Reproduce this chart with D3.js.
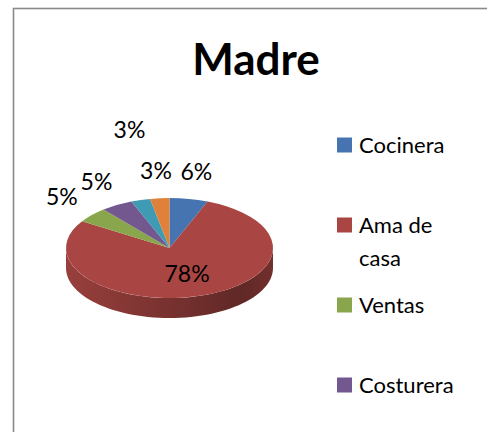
<!DOCTYPE html>
<html>
<head>
<meta charset="utf-8">
<script src="https://cdn.jsdelivr.net/npm/d3@7"></script>
<style>
  body { margin: 0; background: #fff; }
  svg { display: block; font-family: Lato, "Noto Sans", sans-serif; }
</style>
</head>
<body>
<div id="graph"></div>
<script>
'use strict';
// data
var title = 'Madre';
var categories = ['Cocinera', 'Ama de casa', 'Ventas', 'Costurera', 'Empleada', 'Otros'];
var values = [6, 78, 5, 5, 3, 3];
var topColors = ['#4674b0', '#a94643', '#8aa64d', '#72588f', '#3f9bb4', '#df813b'];

var canvasWidth = 487;
var canvasHeight = 432;

var svg = d3.select('#graph')
  .append('svg')
  .attr('width', canvasWidth)
  .attr('height', canvasHeight);

// chart frame (runs off the right and bottom edge)
svg.append('rect')
  .attr('x', 13.5)
  .attr('y', 8.5)
  .attr('width', 520)
  .attr('height', 460)
  .attr('fill', '#fff')
  .attr('stroke', '#8a8a8a')
  .attr('stroke-width', 1.6);

// title
svg.append('text')
  .attr('x', 256)
  .attr('y', 75)
  .attr('text-anchor', 'middle')
  .attr('font-size', '44px')
  .attr('font-weight', 'bold')
  .attr('fill', '#000')
  .text(title);

// pie geometry (ellipse seen from above)
var cx = 169.5, cy = 248, rx = 103.5, ry = 50, depth = 20;

var data = categories.map(function(c, i) {
  return { name: c, value: values[i], color: topColors[i] };
});
var total = d3.sum(values);

var pie = d3.pie().sort(null).value(function(d) { return d.value; });
var arcs = pie(data);

var arc = d3.arc().innerRadius(0).outerRadius(rx);

var defs = svg.append('defs');

function ellipsePoint(a, dy) {
  return [cx + rx * Math.sin(a), cy - ry * Math.cos(a) + (dy || 0)];
}

// side walls: only the front half (pi/2 .. 3pi/2) is visible
var pieArea = svg.append('g');
arcs.forEach(function(a, i) {
  var a0 = Math.max(a.startAngle, Math.PI / 2);
  var a1 = Math.min(a.endAngle, Math.PI * 1.5);
  if (a1 <= a0) return;
  var steps = d3.range(0, 61).map(function(k) { return a0 + (a1 - a0) * k / 60; });
  var topEdge = steps.map(function(t) { return ellipsePoint(t, 0); });
  var bottomEdge = steps.slice().reverse().map(function(t) { return ellipsePoint(t, depth); });
  var base = d3.color(a.data.color);
  var grad = defs.append('linearGradient')
    .attr('id', 'side' + i)
    .attr('gradientUnits', 'userSpaceOnUse')
    .attr('x1', cx - rx).attr('x2', cx + rx)
    .attr('y1', 0).attr('y2', 0);
  grad.append('stop').attr('offset', '0').attr('stop-color', base.darker(0.3));
  grad.append('stop').attr('offset', '0.45').attr('stop-color', base.darker(0.9));
  grad.append('stop').attr('offset', '0.85').attr('stop-color', base.darker(1.6));
  grad.append('stop').attr('offset', '1').attr('stop-color', base.darker(1.1));
  pieArea.append('path')
    .attr('d', d3.line()(topEdge.concat(bottomEdge)) + 'Z')
    .attr('fill', 'url(#side' + i + ')');
});

// top face
pieArea.append('g')
  .attr('transform', 'translate(' + cx + ',' + cy + ') scale(1,' + (ry / rx) + ')')
  .selectAll('path')
  .data(arcs)
  .enter()
  .append('path')
  .attr('d', arc)
  .attr('fill', function(d) { return d.data.color; });

// data labels
var labelSize = 23;
var placed = [];
var labels = svg.append('g')
  .attr('font-size', labelSize + 'px')
  .attr('fill', '#000');

arcs.forEach(function(a) {
  var mid = (a.startAngle + a.endAngle) / 2;
  var pct = Math.round(a.data.value / total * 100) + '%';
  var x, y;
  if (a.data.value / total > 0.5) {
    x = cx + rx * 0.55 * Math.sin(mid);
    y = cy - ry * 0.55 * Math.cos(mid);
  } else {
    x = cx + (rx + 40) * Math.sin(mid);
    y = cy - (ry + 27) * Math.cos(mid);
  }
  var t = labels.append('text')
    .attr('x', x)
    .attr('dy', '0.35em')
    .attr('text-anchor', 'middle')
    .text(pct);
  var w = t.node().getComputedTextLength() + 2, h = labelSize;
  // push up while overlapping a label already placed
  var hit = true;
  while (hit) {
    hit = placed.some(function(p) {
      return Math.abs(p.x - x) < (p.w + w) / 2 && Math.abs(p.y - y) < (p.h + h) / 2;
    });
    if (hit) y -= h * 1.9;
  }
  placed.push({ x: x, y: y, w: w, h: h });
  t.attr('y', y);
});

// legend: entries spread down the right side, cut off at the bottom
var legendTop = 145, legendStep = 80, legendMaxWidth = 110;
var legend = svg.append('g')
  .attr('font-size', '22px')
  .attr('fill', '#000');

data.forEach(function(d, i) {
  var yc = legendTop + i * legendStep;
  if (yc + 8 > canvasHeight) return;
  legend.append('rect')
    .attr('x', 337)
    .attr('y', yc - 7.5)
    .attr('width', 15)
    .attr('height', 15)
    .attr('fill', d.color);
  var t = legend.append('text')
    .attr('x', 359)
    .attr('y', yc + 8);
  // word wrap to the legend width
  var words = d.name.split(' ');
  var line = [];
  var tspan = t.append('tspan').attr('x', 359).attr('dy', 0);
  words.forEach(function(word) {
    line.push(word);
    tspan.text(line.join(' '));
    if (tspan.node().getComputedTextLength() > legendMaxWidth && line.length > 1) {
      line.pop();
      tspan.text(line.join(' '));
      line = [word];
      tspan = t.append('tspan').attr('x', 359).attr('dy', 33).text(word);
    }
  });
});
</script>
</body>
</html>
